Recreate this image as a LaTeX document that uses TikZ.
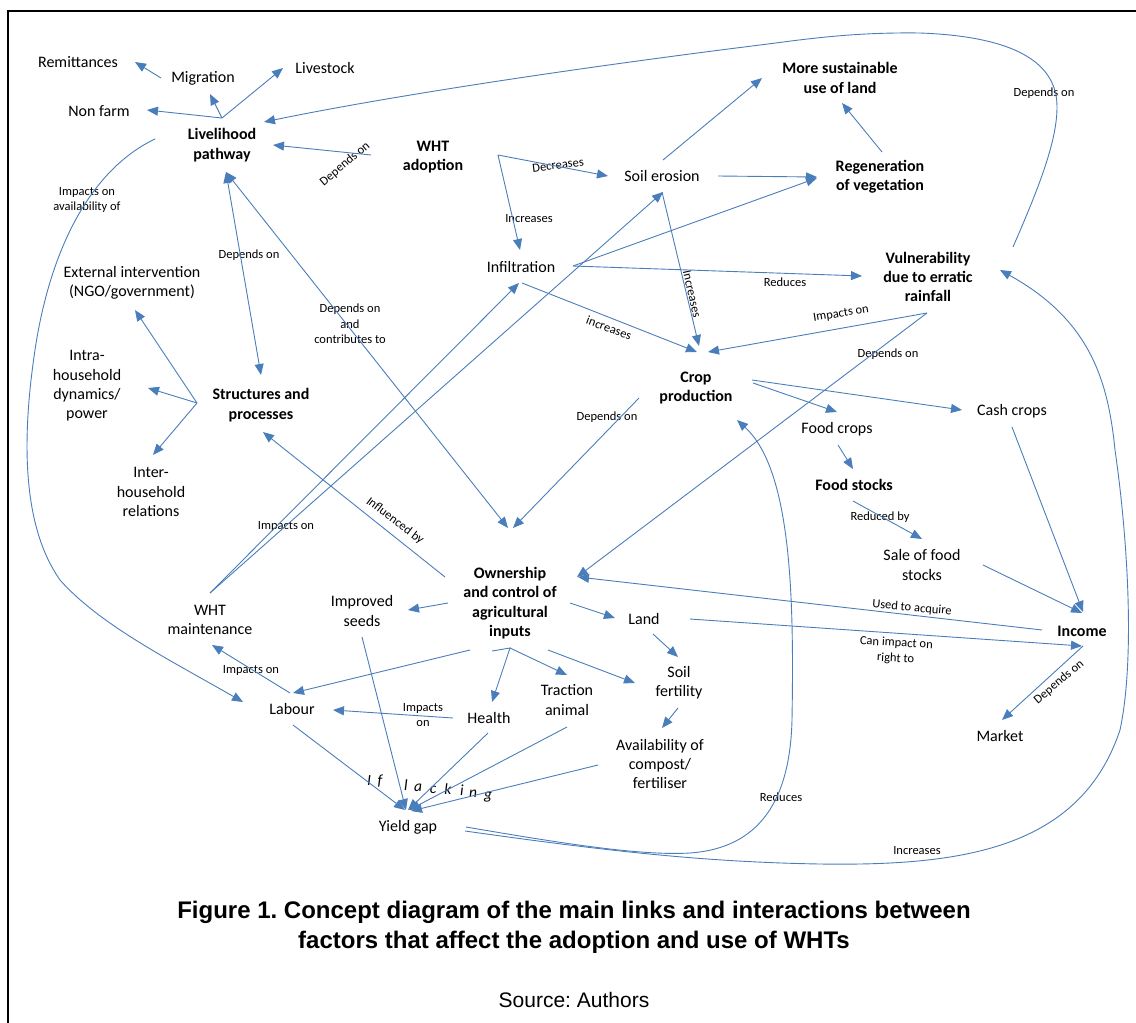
\documentclass[tikz,border=0pt]{standalone}
\usepackage{fontspec}
\setmainfont{Carlito}
\newfontfamily\capfont{Liberation Sans}
\usetikzlibrary{arrows.meta,calc}
\definecolor{lnk}{RGB}{74,126,187}
\frenchspacing
\begin{document}
\begin{tikzpicture}[x=1pt,y=-1pt,
  >={Triangle[length=11pt,width=9pt]},
  lbl/.style={font=\fontsize{16}{19.4}\selectfont, align=center, inner sep=0pt},
  blbl/.style={font=\fontsize{16}{19.4}\selectfont\bfseries, align=center, inner sep=0pt},
  elbl/.style={font=\fontsize{12.5}{15.5}\selectfont, align=center, inner sep=0pt},
  lkl/.style={font=\fontsize{15.5}{18}\selectfont\itshape, anchor=base, inner sep=0pt},
  conn/.style={draw=lnk, line width=0.9pt, ->},
  conn2/.style={draw=lnk, line width=0.9pt, <->},
  link/.style={draw=lnk, line width=0.9pt}]
\useasboundingbox (0,0) rectangle (1136,1023);
\draw[line width=2pt] (7.5,1023) -- (7.5,10.5) -- (1136,10.5);

% nodes
\node[lbl] (rem) at (78,62) {Remittances};
\node[lbl] (mig) at (203,78) {Migration};
\node[lbl] (live) at (325,68) {Livestock};
\node[lbl] (nonf) at (99,111) {Non farm};
\node[blbl] (lp) at (222,145) {Livelihood\\pathway};
\node[blbl] (wht) at (433,157) {WHT\\adoption};
\node[lbl] (se) at (662,176) {Soil erosion};
\node[blbl] (msu) at (840,78) {More sustainable\\use of land};
\node[blbl] (reg) at (880,177) {Regeneration\\of vegetation};
\node[lbl] (inf) at (521,267) {Infiltration};
\node[blbl] (vul) at (928,277) {Vulnerability\\due to erratic\\rainfall};
\node[lbl] (ext) at (132,283) {External intervention\\(NGO/government)};
\node[lbl] (intra) at (87,386) {Intra-\\household\\dynamics/\\power};
\node[blbl] (sp) at (261,405) {Structures and\\processes};
\node[lbl] (inter) at (151,492) {Inter-\\household\\relations};
\node[blbl] (cp) at (696,388) {Crop\\production};
\node[lbl] (fc) at (837,429) {Food crops};
\node[lbl] (cc) at (1012,411) {Cash crops};
\node[blbl] (fs) at (854,485) {Food stocks};
\node[lbl] (sale) at (922,565) {Sale of food\\stocks};
\node[blbl] (own) at (510,603) {Ownership\\and control of\\agricultural\\inputs};
\node[lbl] (seeds) at (362,611) {Improved\\seeds};
\node[lbl] (whtm) at (210,620) {WHT\\maintenance};
\node[lbl] (land) at (644,619) {Land};
\node[blbl] (inc) at (1082,631) {Income};
\node[lbl] (soil) at (679,683) {Soil\\fertility};
\node[lbl] (trac) at (567,700) {Traction\\animal};
\node[lbl] (hea) at (489,718) {Health};
\node[lbl] (lab) at (292,709) {Labour};
\node[lbl] (mkt) at (1000,736) {Market};
\node[lbl] (avail) at (660,764) {Availability of\\compost/\\fertiliser};
\node[lbl] (yg) at (408,827) {Yield gap};

% edge labels
\node[elbl, rotate=40] (e1) at (345,164) {Depends on};
\node[elbl] (e2) at (87,200) {Impacts on\\availability of};
\node[elbl] (e3) at (249,255) {Depends on};
\node[elbl] (e4) at (350,324) {Depends on\\and\\contributes to};
\node[elbl, rotate=7] (e5) at (558,165) {Decreases};
\node[elbl] (e6) at (529,219) {Increases};
\node[elbl, rotate=-77] (e7) at (692,294) {Increases};
\node[elbl, rotate=-20] (e8) at (609,328) {increases};
\node[elbl] (e9) at (785,282) {Reduces};
\node[elbl, rotate=9] (e10) at (841,314) {Impacts on};
\node[elbl] (e11) at (888,354) {Depends on};
\node[elbl] (e12) at (607,417) {Depends on};
\node[elbl] (e13) at (1044,93) {Depends on};
\node[elbl] (e14) at (286,526) {Impacts on};
\node[elbl, rotate=-37] (e15) at (395,521) {Influenced by};
\node[elbl] (e16) at (880,517) {Reduced by};
\node[elbl, rotate=-5] (e17) at (912,608) {Used to acquire};
\node[elbl, rotate=-3] (e18) at (896,651) {Can impact on\\right to};
\node[elbl, rotate=40] (e19) at (1059,682) {Depends on};
\node[elbl] (e20) at (251,670) {Impacts on};
\node[elbl] (e21) at (423,715) {Impacts\\on};
\node[elbl] (e22) at (781,797) {Reduces};
\node[elbl] (e23) at (917,851) {Increases};

% "If lacking"
\foreach \ch/\xx/\yy [count=\i] in {I/369/785, f/380/785, l/406/790, a/418/791, c/433/793, k/448/794, i/462/795, n/473/797, g/488/799}
  \node[lkl] (lk\i) at (\xx,\yy) {\ch};

% connectors
\draw[conn] ($(mig)+(-42,0)$) -- ($(rem)+(57,0)$);
\draw[conn] ($(lp)+(0,-27)$) -- ($(nonf)+(48,-1)$);
\draw[conn] ($(lp)+(0,-27)$) -- ($(mig)+(7,16)$);
\draw[conn] ($(lp)+(0,-27)$) -- ($(live)+(-42,0)$);
\draw[conn] ($(wht)+(-62,-2)$) -- ($(lp)+(51,0)$);
\draw[conn] ($(vul)+(85,-30)$) .. controls (1040,185) and (1062,130) .. (1056,95)
   .. controls (1048,55) and (1000,36) .. (920,33)
   .. controls (850,32) and (800,40) .. (760,45)
   .. controls (560,70) and (380,98) .. ($(lp)+(42,-23)$);
\draw[conn] ($(lp)+(-67,-6)$) .. controls (90,170) and (50,250) .. (35,350)
   .. controls (20,450) and (25,530) .. (60,580)
   .. controls (100,625) and (170,660) .. ($(lab)+(-49,-7)$);
\draw[conn2] ($(lp)+(4,27)$) -- ($(sp)+(0,-30)$);
\draw[conn2] ($(lp)+(4,27)$) -- ($(own)+(-2,-75)$);
\draw[conn] ($(sp)+(-64,-2)$) -- ($(ext)+(3,27)$);
\draw[conn] ($(sp)+(-64,-2)$) -- ($(intra)+(61,2)$);
\draw[conn] ($(sp)+(-64,-2)$) -- ($(inter)+(2,-37)$);
\draw[conn] ($(wht)+(65,-2)$) -- ($(se)+(-54,0)$);
\draw[conn] ($(wht)+(65,-2)$) -- ($(inf)+(-1,-17)$);
\draw[conn] ($(se)+(1,-16)$) -- ($(msu)+(-78,0)$);
\draw[conn] ($(se)+(56,0)$) -- ($(reg)+(-63,0)$);
\draw[conn] ($(inf)+(52,-1)$) -- ($(reg)+(-63,1)$);
\draw[conn] ($(reg)+(2,-25)$) -- ($(msu)+(2,25)$);
\draw[conn] ($(inf)+(52,-1)$) -- ($(vul)+(-66,-1)$);
\draw[conn] ($(inf)+(1,16)$) -- ($(cp)+(1,-36)$);
\draw[conn] ($(se)+(0,16)$) -- ($(cp)+(3,-42)$);
\draw[conn] ($(vul)+(-1,36)$) -- ($(cp)+(12,-36)$);
\draw[conn] ($(vul)+(-1,36)$) -- ($(own)+(67,-26)$);
\draw[conn] ($(cp)+(-57,10)$) -- ($(own)+(3,-75)$);
\draw[conn] ($(cp)+(57,-5)$) -- ($(fc)+(0,-17)$);
\draw[conn] ($(cp)+(56,-8)$) -- ($(cc)+(-50,-1)$);
\draw[conn] ($(fc)+(1,16)$) -- ($(fs)+(-1,-16)$);
\draw[conn] ($(fs)+(-1,16)$) -- ($(sale)+(0,-26)$);
\draw[conn] ($(sale)+(61,0)$) -- ($(inc)+(0,-18)$);
\draw[conn] ($(cc)+(0,16)$) -- ($(inc)+(1,-19)$);
\draw[conn] ($(inc)+(-40,-1)$) -- ($(own)+(68,-26)$);
\draw[conn] ($(land)+(46,0)$) -- ($(inc)+(0,15)$);
\draw[conn] ($(inc)+(1,15)$) -- ($(mkt)+(2,-16)$);
\draw[conn] ($(yg)+(57,4)$) .. controls (600,850) and (700,862) .. (820,864)
   .. controls (960,866) and (1080,850) .. (1120,730)
   .. controls (1135,660) and (1128,540) .. (1115,450)
   .. controls (1108,380) and (1090,320) .. ($(vul)+(72,-7)$);
\draw[conn] ($(yg)+(58,0)$) .. controls (560,843) and (640,856) .. (690,853)
   .. controls (760,848) and (790,800) .. (792,720)
   .. controls (794,600) and (792,470) .. ($(cp)+(41,32)$);
\draw[conn] ($(whtm)+(0,-27)$) -- ($(inf)+(-2,16)$);
\draw[conn] ($(whtm)+(0,-27)$) -- ($(se)+(1,16)$);
\draw[conn] ($(own)+(-65,-26)$) -- ($(sp)+(2,27)$);
\draw[conn] ($(own)+(-62,0)$) -- ($(seeds)+(46,-1)$);
\draw[conn] ($(own)+(60,0)$) -- ($(land)+(-29,-1)$);
\draw[conn] ($(own)+(-40,47)$) -- ($(lab)+(1,-16)$);
\draw[conn] ($(own)+(-18,48)$) -- ($(own)+(0,45)$) -- ($(hea)+(3,-16)$);
\draw[conn] ($(own)+(0,45)$) -- ($(trac)+(0,-25)$);
\draw[conn] ($(own)+(38,47)$) -- ($(soil)+(-44,0)$);
\draw[conn] ($(land)+(9,15)$) -- ($(soil)+(-1,-26)$);
\draw[conn] ($(soil)+(-1,25)$) -- ($(avail)+(2,-36)$);
\draw[conn] ($(hea)+(-36,0)$) -- ($(lab)+(41,1)$);
\draw[conn] ($(lab)+(-2,-16)$) -- ($(whtm)+(2,25)$);
\draw[conn] ($(lab)+(1,16)$) -- ($(yg)+(-3,-17)$);
\draw[conn] ($(seeds)+(0,26)$) -- ($(yg)+(-2,-17)$);
\draw[conn] ($(hea)+(-1,15)$) -- ($(yg)+(0,-17)$);
\draw[conn] ($(trac)+(0,27)$) -- ($(yg)+(1,-17)$);
\draw[conn] ($(avail)+(-62,1)$) -- ($(yg)+(3,-16)$);

% caption
\node[anchor=base, inner sep=0pt, font=\capfont\bfseries\fontsize{24}{28}\selectfont] (cap1) at (574,918) {Figure 1. Concept diagram of the main links and interactions between};
\node[anchor=base, inner sep=0pt, font=\capfont\bfseries\fontsize{24}{28}\selectfont] (cap2) at (574,948) {factors that affect the adoption and use of WHTs};
\node[anchor=base, inner sep=0pt, font=\capfont\fontsize{21}{25}\selectfont] (src) at (574,1007) {Source: Authors};
\end{tikzpicture}
\end{document}
